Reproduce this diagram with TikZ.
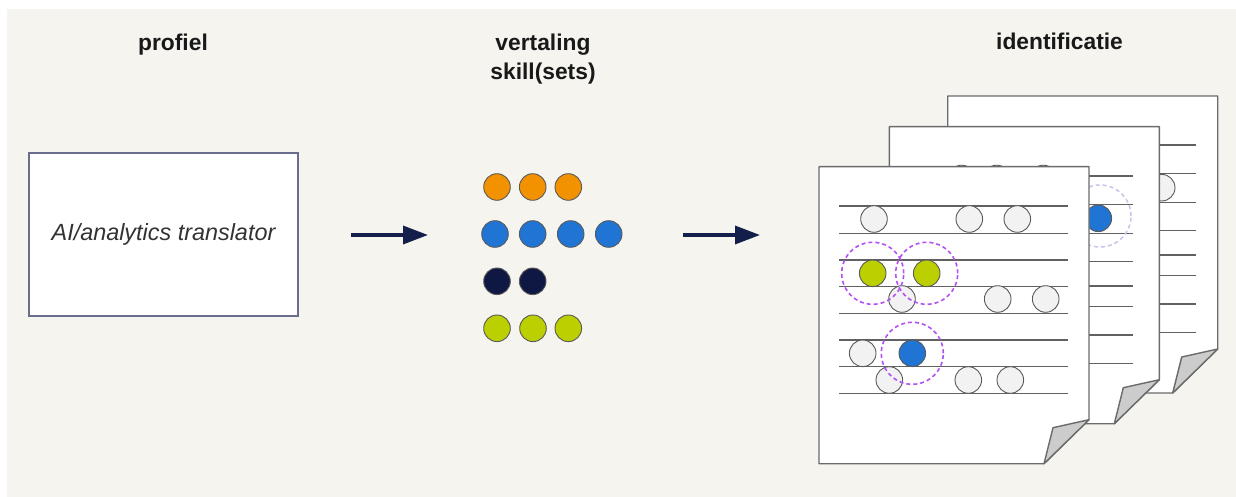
\documentclass[tikz,border=0pt]{standalone}
\usepackage{fontspec}
\setmainfont{Liberation Sans}
\usetikzlibrary{arrows.meta}
\definecolor{bgc}{HTML}{F5F4EF}
\definecolor{cOr}{HTML}{F39200}
\definecolor{cBl}{HTML}{1F74D4}
\definecolor{cNv}{HTML}{0E1842}
\definecolor{cLm}{HTML}{BCCF00}
\definecolor{cGr}{HTML}{F2F2F2}
\definecolor{cPu}{HTML}{B450F2}
\definecolor{cPl}{HTML}{C8C3EA}
\definecolor{arrowc}{HTML}{141E4B}
\definecolor{boxc}{HTML}{6A6E8C}
\tikzset{
  titletext/.style={font=\fontsize{22.8}{29}\selectfont\bfseries, text=black!90, inner sep=0pt, anchor=base},
  profbox/.style={draw=boxc, line width=1.3pt, fill=white, minimum width=269pt, minimum height=163pt, inner sep=0pt,
    font=\fontsize{23.4}{28}\selectfont\itshape, text=black!80},
  flow/.style={draw=arrowc, line width=3.5pt, -{Triangle[length=25pt,width=18pt]}},
  dot/.style={circle, draw=black!65, line width=0.9pt, minimum size=26.6pt, inner sep=0pt},
  gdot/.style={dot, fill=cGr},
  ring/.style={draw=cPu, line width=1.6pt, dash pattern=on 4pt off 3pt},
  lring/.style={draw=cPl, line width=1.5pt, dash pattern=on 4pt off 3pt},
  rule/.style={draw=black!62, line width=1.3pt},
  pageedge/.style={draw=black!58, line width=1.4pt, fill=white, line join=round},
  flap/.style={draw=black!58, line width=1.4pt, fill=black!20, line join=round},
  docpage/.pic={
    \filldraw[pageedge] (0,0) -- (270,0) -- (270,253) -- (225,297) -- (0,297) -- cycle;
    \filldraw[flap] (225,297) -- (234,261) -- (270,253) -- cycle;
  }
}
\begin{document}
\begin{tikzpicture}[x=1pt,y=-1pt]
\useasboundingbox (0,0) rectangle (1236,497);
\fill[white] (0,0) rectangle (1236,497);
\fill[bgc] (7,9) rectangle (1236,497);

% titles
\node[titletext] (t1) at (173,51) {profiel};
\node[titletext] (t2) at (543,51) {vertaling};
\node[titletext] (t3) at (543,80) {skill(sets)};
\node[titletext] (t4) at (1059.5,50) {identificatie};

% profile box
\node[profbox] (prof) at (163.5,234.5) {AI/analytics translator};

% arrows
\coordinate (a1s) at (351,235);
\coordinate (a1e) at (428,235);
\coordinate (a2s) at (683,235);
\coordinate (a2e) at (760,235);
\draw[flow] (a1s) -- (a1e);
\draw[flow] (a2s) -- (a2e);

% skill dots
\node[dot, fill=cOr] (o1) at (497,187) {};
\node[dot, fill=cOr] (o2) at (532.7,187) {};
\node[dot, fill=cOr] (o3) at (568.3,187) {};
\node[dot, fill=cBl] (b1) at (495,234) {};
\node[dot, fill=cBl] (b2) at (532.7,234) {};
\node[dot, fill=cBl] (b3) at (570.7,234) {};
\node[dot, fill=cBl] (b4) at (608.7,234) {};
\node[dot, fill=cNv] (n1) at (497,281.3) {};
\node[dot, fill=cNv] (n2) at (532.7,281.3) {};
\node[dot, fill=cLm] (l1) at (497,328.3) {};
\node[dot, fill=cLm] (l2) at (533,328.3) {};
\node[dot, fill=cLm] (l3) at (568.3,328.3) {};

% back page
\pic at (947.7,96) {docpage};
\foreach \yy in {145,173.3,202.3,230.7,255,275.7,304,332.3}
  \draw[rule] (968,\yy) -- (1195.7,\yy);
\node[gdot] (bp1) at (1161.7,187.7) {};

% middle page
\pic at (889.3,126.7) {docpage};
\foreach \yy in {176,204.3,233.3,261.7,286,306.7,335,363.3}
  \draw[rule] (909,\yy) -- (1133.3,\yy);
\node[gdot] (mp1) at (961.7,178.5) {};
\node[gdot] (mp2) at (996.7,178.5) {};
\node[gdot] (mp3) at (1043.3,178.5) {};
\node[dot, fill=cBl] (mp4) at (1098.3,218.3) {};
\draw[lring] (1100,216) circle[radius=31pt];

% front page
\pic at (819,166.7) {docpage};
\foreach \yy in {206,233.3,260,286.7,313.3,340,366.7,393.3}
  \draw[rule] (839,\yy) -- (1067.7,\yy);
\node[gdot] (f1) at (874,219) {};
\node[gdot] (f2) at (969.3,219) {};
\node[gdot] (f3) at (1017.3,219) {};
\node[dot, fill=cLm] (f4) at (872.7,273.3) {};
\node[dot, fill=cLm] (f5) at (926.7,273.3) {};
\node[gdot] (f6) at (902,299) {};
\node[gdot] (f7) at (997.7,299) {};
\node[gdot] (f8) at (1045.7,299) {};
\node[gdot] (f9) at (862.7,353.3) {};
\node[dot, fill=cBl] (f10) at (912.3,353.3) {};
\node[gdot] (f11) at (889.3,380) {};
\node[gdot] (f12) at (968.3,380) {};
\node[gdot] (f13) at (1010.3,380) {};
\draw[ring] (f4) circle[radius=31pt];
\draw[ring] (f5) circle[radius=31pt];
\draw[ring] (f10) circle[radius=31pt];
\end{tikzpicture}
\end{document}
